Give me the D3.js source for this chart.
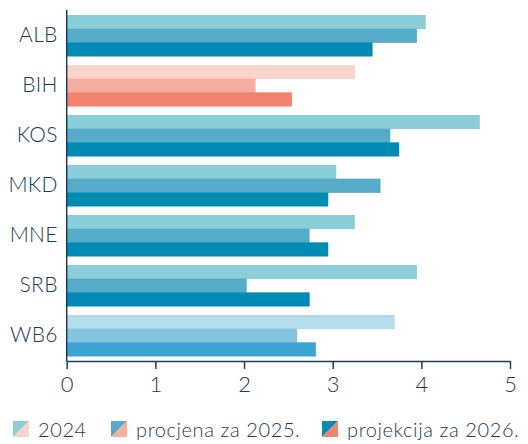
<!DOCTYPE html>
<html><head><meta charset="utf-8">
<script src="https://cdn.jsdelivr.net/npm/d3@7"></script>
<style>
body{margin:0;background:#fff;}
svg text{font-family:Lato,"Open Sans",sans-serif;fill:#1a3a58;font-weight:300;}
</style></head>
<body><svg id="c" width="528" height="444"></svg>
<script>
const categories = ["ALB","BIH","KOS","MKD","MNE","SRB","WB6"];
const seriesNames = ["2024","procjena za 2025.","projekcija za 2026."];
const v2024 = [4.05,3.25,4.66,3.04,3.25,3.95,3.70];
const v2025 = [3.95,2.13,3.65,3.54,2.74,2.03,2.60];
const v2026 = [3.45,2.54,3.75,2.95,2.95,2.74,2.81];
const xTicks = [0,1,2,3,4,5];

const tealColors = ["#8bcdd8","#56abc8","#008bb5"];
const pinkColors = ["#fad3cc","#f5afa0","#f2836d"];
const wbColors = ["#b3ddea","#86c5e0","#3ba4d3"];

const svg = d3.select("#c");
const x = d3.scaleLinear().domain([0,5]).range([66.7,510]);
const y = d3.scaleBand().domain(categories).range([10,361]).paddingInner(0.18).paddingOuter(0.1);
const sub = d3.scaleBand().domain([0,1,2]).range([0,y.bandwidth()]);

const data = categories.map((c,i)=>({cat:c, vals:[v2024[i],v2025[i],v2026[i]]}));
function colorFor(cat,k){ if(cat==="BIH") return pinkColors[k]; if(cat==="WB6") return wbColors[k]; return tealColors[k]; }

const g = svg.append("g");
data.forEach(d=>{
  d.vals.forEach((v,k)=>{
    g.append("rect")
      .attr("x",x(0)).attr("y",y(d.cat)+sub(k))
      .attr("width",x(v)-x(0)).attr("height",sub.bandwidth()+0.5)
      .attr("fill",colorFor(d.cat,k));
  });
});

// x axis
const xa = svg.append("g").attr("transform","translate(0,361)")
  .call(d3.axisBottom(x).tickValues(xTicks).tickFormat(d3.format("d")).tickSize(8).tickSizeOuter(0));
xa.select(".domain").attr("stroke","#1d3c5a").attr("stroke-width",1.5);
xa.selectAll(".tick line").attr("stroke","#1d3c5a").attr("stroke-width",1.5);
xa.selectAll(".tick text").attr("font-size",22).attr("dy","0.9em").attr("font-family","Lato").attr("fill","#1a3a58");

// y axis
const ya = svg.append("g").attr("transform","translate(66.7,0)")
  .call(d3.axisLeft(y).tickSize(0).tickPadding(9));
ya.select(".domain").attr("stroke","#1d3c5a").attr("stroke-width",1.5).attr("d","M0,10V361");
ya.selectAll(".tick text").attr("font-size",21).attr("font-family","Lato").attr("fill","#1a3a58").attr("letter-spacing",0.3);

// legend
const legX = [13,111,322];
const lg = svg.append("g");
seriesNames.forEach((n,k)=>{
  const gx = legX[k], gy = 421;
  const s = 16;
  lg.append("path").attr("d",`M${gx},${gy}H${gx+s}L${gx},${gy+s}Z`).attr("fill",tealColors[k]);
  lg.append("path").attr("d",`M${gx+s},${gy}V${gy+s}H${gx}Z`).attr("fill",pinkColors[k]);
  lg.append("text").attr("x",gx+25).attr("y",gy+s).attr("font-size",20).attr("letter-spacing",0.6).text(n);
});
</script></body></html>
